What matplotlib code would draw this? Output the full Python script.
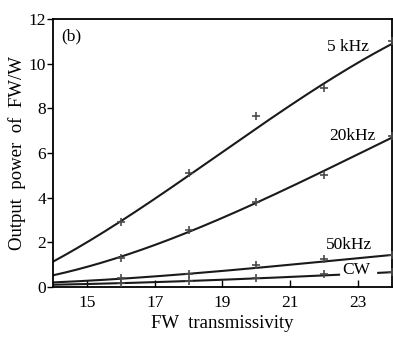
import numpy as np
from matplotlib import pyplot as plt

plt.rcParams['font.family'] = ['Liberation Serif', 'DejaVu Serif']

# measured points
x_pts = [16, 18, 20, 22, 24]
p_5k = [2.92, 5.1, 7.65, 8.9, 11.0]
p_20k = [1.3, 2.55, 3.8, 5.0, 6.75]
p_50k = [0.38, 0.6, 0.98, 1.24, 1.45]
p_cw = [0.18, 0.25, 0.4, 0.57, 0.66]

# fitted curves, read at these x positions
x_fit = [14, 16, 18, 20, 22, 24]
f_5k = [1.15, 2.9, 5.0, 7.15, 9.05, 10.9]
f_20k = [0.54, 1.3, 2.5, 3.8, 5.15, 6.7]
f_50k = [0.2, 0.38, 0.58, 0.85, 1.15, 1.43]
f_cw = [0.1, 0.17, 0.27, 0.38, 0.52, 0.66]

labels = ['5 kHz', '20kHz', '50kHz', 'CW']
label_pos = [(22.7, 10.75), (22.85, 6.75), (22.75, 1.9), (22.95, 0.75)]

fig = plt.figure(figsize=(3.93, 3.38), dpi=100)
ax = fig.add_axes([0.135, 0.151, 0.862, 0.793])

xs = np.linspace(14, 24, 200)
for pts, fit in zip([p_5k, p_20k, p_50k, p_cw], [f_5k, f_20k, f_50k, f_cw]):
    c = np.polyfit(x_fit, fit, 3)
    ys = np.polyval(c, xs)
    if fit is f_cw:
        # gap for the CW label
        ys = np.where((xs > 22.45) & (xs < 23.55), np.nan, ys)
    ax.plot(xs, ys, color='#1a1a1a', lw=1.5, zorder=2)
    ax.plot(x_pts, pts, ls='none', marker='+', ms=5.5, mew=1.2,
            color='#4a4a4a', zorder=3, clip_on=False)

for lab, (lx, ly) in zip(labels, label_pos):
    ax.text(lx, ly, lab, ha='center', va='center', fontsize=12.5)

ax.text(14.25, 11.2, '(b)', ha='left', va='center', fontsize=12.5)

ax.set_xlim(14, 24)
ax.set_ylim(0, 12)
ax.set_xticks([15, 17, 19, 21, 23])
ax.set_yticks([0, 2, 4, 6, 8, 10, 12])
ax.tick_params(axis='x', direction='in', length=5, width=1, labelsize=12.5, pad=6)
ax.tick_params(axis='y', direction='out', length=4, width=1, labelsize=12.5, pad=1)
for s in ax.spines.values():
    s.set_linewidth(1.3)

ax.set_xlabel('FW  transmissivity', fontsize=13.5, labelpad=3)
ax.set_ylabel('Output  power  of  FW/W', fontsize=13.5, labelpad=2)

fig.savefig('out.png', dpi=100)
